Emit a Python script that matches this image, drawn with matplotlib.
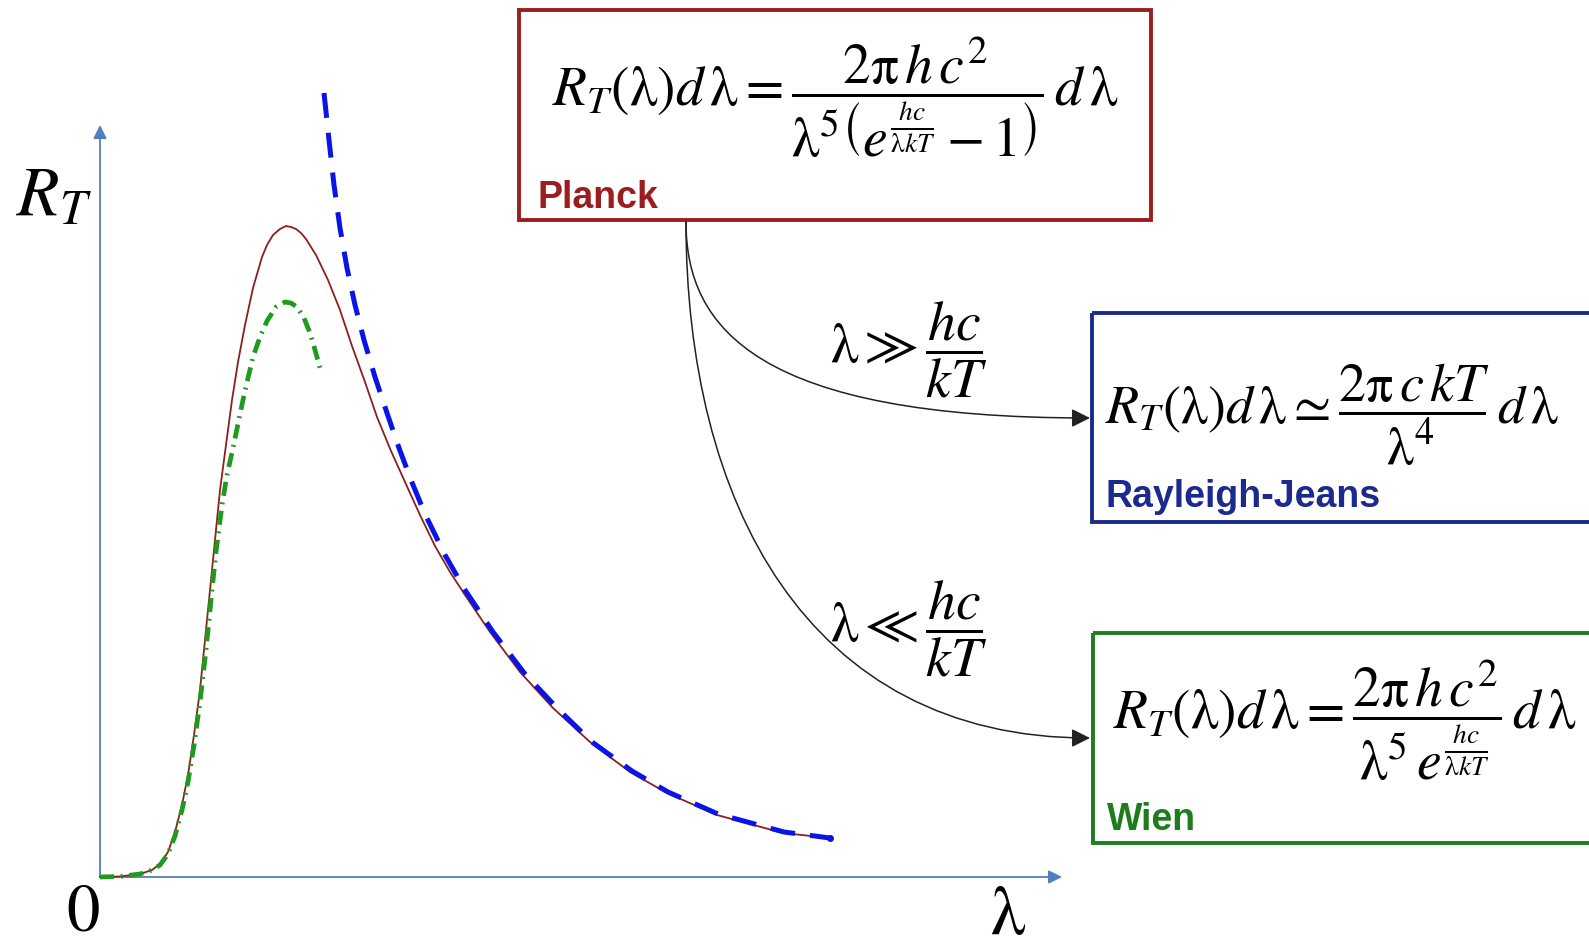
import matplotlib
matplotlib.use("Agg")
import matplotlib.pyplot as plt
from matplotlib.path import Path
from matplotlib.patches import FancyArrowPatch, Rectangle

plt.rcParams['mathtext.fontset'] = 'stix'
plt.rcParams['font.family'] = ['STIXGeneral', 'DejaVu Sans']

W, H = 1589, 949

planck_lam = [0.00, 0.20, 0.40, 0.52, 0.60, 0.68, 0.75, 0.82, 0.88, 0.94, 1.00, 1.05,
              1.10, 1.15, 1.20, 1.26, 1.32, 1.38, 1.45, 1.53, 1.62, 1.67, 1.73, 1.80,
              1.86, 1.91, 1.96, 2.01, 2.06, 2.16, 2.28, 2.40, 2.52, 2.65, 2.77, 2.91,
              3.05, 3.20, 3.35, 3.50, 3.65, 3.90, 4.20, 4.53, 4.90, 5.30, 5.67, 6.17,
              6.83, 7.30]
planck_R = [0.00, 0.005, 0.03, 0.07, 0.13, 0.25, 0.45, 0.72, 1.02, 1.42, 1.87, 2.37,
            2.87, 3.37, 3.87, 4.32, 4.77, 5.15, 5.52, 5.89, 6.20, 6.32, 6.42, 6.48,
            6.51, 6.50, 6.48, 6.44, 6.38, 6.22, 5.97, 5.67, 5.31, 4.95, 4.60, 4.26,
            3.95, 3.62, 3.31, 3.05, 2.82, 2.45, 2.05, 1.69, 1.35, 1.05, 0.84, 0.62,
            0.44, 0.39]

rj_lam = [2.24, 2.29, 2.34, 2.40, 2.47, 2.55, 2.64, 2.75, 2.87, 2.99, 3.11, 3.25,
          3.45, 3.65, 3.93, 4.25, 4.58, 4.92, 5.32, 5.68, 6.18, 6.84, 7.30]
rj_R = [7.84, 7.37, 6.92, 6.49, 6.09, 5.72, 5.37, 5.00, 4.64, 4.29, 3.97, 3.63,
        3.22, 2.87, 2.45, 2.03, 1.68, 1.35, 1.06, 0.85, 0.63, 0.45, 0.39]

wien_lam = [0.00, 0.20, 0.40, 0.52, 0.60, 0.68, 0.75, 0.82, 0.88, 0.94, 1.00, 1.06,
            1.11, 1.16, 1.22, 1.27, 1.33, 1.38, 1.43, 1.48, 1.53, 1.60, 1.67, 1.76,
            1.85, 1.91, 1.97, 2.04, 2.10, 2.15, 2.20]
wien_R = [0.00, 0.005, 0.03, 0.07, 0.12, 0.23, 0.41, 0.67, 0.95, 1.32, 1.75, 2.27,
          2.77, 3.25, 3.72, 4.02, 4.29, 4.53, 4.77, 4.99, 5.20, 5.40, 5.56, 5.70,
          5.75, 5.74, 5.70, 5.59, 5.44, 5.27, 5.09]

x_axis_end = 9.62
y_axis_end = 7.52

fig = plt.figure(figsize=(W / 100, H / 100), dpi=100)

# plot axes: origin at pixel (100, 877), 100 px per unit
ax = fig.add_axes([100 / W, (H - 877) / H, 962 / W, 852 / H])
ax.set_xlim(0, 9.62)
ax.set_ylim(0, 8.52)
ax.axis('off')

axis_col = '#7d9bc2'
head_col = '#4f7fc0'
for tip in [(x_axis_end, 0), (0, y_axis_end)]:
    ax.annotate('', xy=tip, xytext=(0, 0),
                arrowprops=dict(arrowstyle='-|>', color=axis_col, lw=1.3,
                                mutation_scale=20, shrinkA=0, shrinkB=0,
                                fc=head_col, ec=head_col))

ax.plot(planck_lam, planck_R, color='#8e1f1f', lw=1.3, zorder=3, clip_on=False,
        solid_joinstyle='round')
ax.plot(rj_lam, rj_R, color='#0a14e6', lw=3.6, dashes=(5, 3), zorder=4,
        clip_on=False, marker='o', markevery=[len(rj_lam) - 1], ms=4)
ax.plot(wien_lam, wien_R, color='#1f9a1f', lw=3.4, dashes=(3, 1.4, 0.4, 1.4),
        zorder=4, clip_on=False)

# overlay in pixel units for labels, boxes and arrows
ov = fig.add_axes([0, 0, 1, 1], facecolor='none')
ov.set_xlim(0, W)
ov.set_ylim(H, 0)
ov.axis('off')

ov.text(54, 198, r'$R_T$', fontsize=50, ha='center', va='center')
ov.text(83, 915, '0', fontsize=48, ha='center', va='center')
ov.text(1008, 918, r'$\mathrm{\lambda}$', fontsize=50, ha='center', va='center')

boxes = [
    (519, 10, 632, 210, '#9b1d1d', 'Planck', (537, 208), 27),
    (1092, 313, 520, 209, '#1b2a8c', 'Rayleigh-Jeans', (1105, 507), 27),
    (1093, 633, 520, 210, '#1d7d1d', 'Wien', (1107, 830), 27),
]
for x0, y0, w, h, col, name, pos, fs in boxes:
    ov.add_patch(Rectangle((x0, y0), w, h, fill=False, ec=col, lw=2.8, clip_on=False))
    ov.text(pos[0], pos[1], name, color=col, fontsize=fs, fontweight='bold',
            family='Liberation Sans', ha='left', va='baseline')

L = r'\mathrm{\lambda}'
P = r'\mathrm{\pi}'
planck_eq = (r'$R_T(' + L + r')d\,' + L + r'=\dfrac{2' + P + r'\,h\,c^2}'
             r'{' + L + r'^5\left(e^{\frac{hc}{' + L + r'kT}}-1\right)}\,d\,' + L + r'$')
rj_eq = (r'$R_T(' + L + r')d\,' + L + r'\simeq\dfrac{2' + P + r'\,c\,kT}{' + L + r'^4}\,d\,'
         + L + r'$')
wien_eq = (r'$R_T(' + L + r')d\,' + L + r'=\dfrac{2' + P + r'\,h\,c^2}'
           r'{' + L + r'^5\,e^{\frac{hc}{' + L + r'kT}}}\,d\,' + L + r'$')

ov.text(552, 97, planck_eq, fontsize=40, ha='left', va='center')
ov.text(1105, 415, rj_eq, fontsize=39, ha='left', va='center')
ov.text(1113, 720, wien_eq, fontsize=40, ha='left', va='center')

ov.text(909, 350, r'$' + L + r'\gg\dfrac{hc}{kT}$', fontsize=40, ha='center', va='center')
ov.text(909, 629, r'$' + L + r'\ll\dfrac{hc}{kT}$', fontsize=40, ha='center', va='center')

# curved arrows from the Planck box to the two limits
curves = [
    [(686, 222), (686, 330), (760, 418), (1090, 418)],
    [(686, 222), (686, 500), (805, 738), (1090, 738)],
]
for verts in curves:
    path = Path(verts, [Path.MOVETO, Path.CURVE4, Path.CURVE4, Path.CURVE4])
    ov.add_patch(FancyArrowPatch(path=path, arrowstyle='-|>', mutation_scale=28,
                                 color='#222222', lw=1.1))

fig.savefig('out.png', dpi=100, facecolor='white')
